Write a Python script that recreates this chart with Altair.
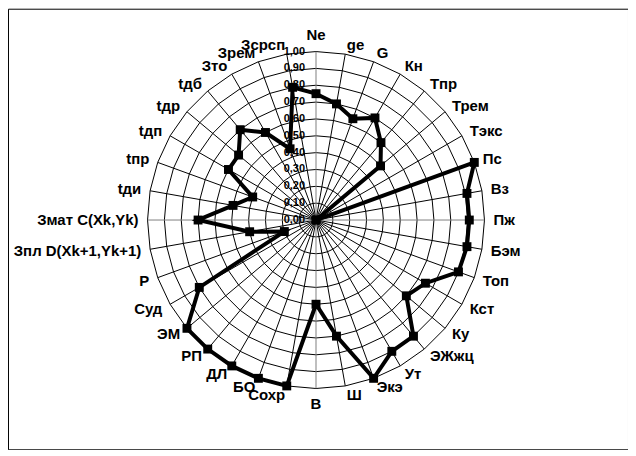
import altair as alt
import pandas as pd

categories = ["Ne", "ge", "G", "Кн", "Тпр", "Трем", "Тэкс", "Пс", "Вз", "Пж",
              "Бэм", "Топ", "Кст", "Ку", "ЭЖжц", "Ут", "Экэ", "Ш", "В", "Сохр",
              "БО", "ДЛ", "РП", "ЭМ", "Суд", "Р", "Зпл D(Xk+1,Yk+1)", "Змат C(Xk,Yk)",
              "tди", "tпр", "tдп", "tдр", "tдб", "Зто", "Зрем", "Зсрсп"]
values = [0.75, 0.70, 0.64, 0.70, 0.60, 0.50, 0.00, 1.00, 0.91, 0.91,
          0.91, 0.90, 0.75, 0.70, 0.90, 0.90, 1.00, 0.70, 0.50, 1.00,
          1.00, 1.00, 1.00, 1.00, 0.80, 0.20, 0.40, 0.70, 0.50, 0.40,
          0.60, 0.60, 0.70, 0.60, 0.45, 0.80]
tick_values = [0.0, 0.1, 0.2, 0.3, 0.4, 0.5, 0.6, 0.7, 0.8, 0.9, 1.0]
tick_labels = ["0,00", "0,10", "0,20", "0,30", "0,40", "0,50",
               "0,60", "0,70", "0,80", "0,90", "1,00"]

df = pd.DataFrame({"cat": categories, "val": values, "idx": list(range(len(categories)))})
ticks = pd.DataFrame({"v": tick_values, "t": tick_labels})

W, H = 622, 442
R = 169.0
CX, CY = 309.0, 212.0
xs = alt.Scale(domain=[-CX / R, (W - CX) / R], nice=False, zero=False)
ys = alt.Scale(domain=[-(H - CY) / R, CY / R], nice=False, zero=False)
LR = 1.0 + 9.0 / R
FONT = "Liberation Sans"

base = alt.Chart(df).transform_calculate(
    ang="datum.idx * 10 * PI / 180",
).transform_calculate(
    px="datum.val * sin(datum.ang)",
    py="datum.val * cos(datum.ang)",
    sx="sin(datum.ang)",
    sy="cos(datum.ang)",
    lx=f"{LR} * sin(datum.ang)",
    ly=f"{LR} * cos(datum.ang)",
    zero="0",
)

rings = alt.Chart(df).transform_calculate(
    ang="datum.idx * 10 * PI / 180",
    lv=str(tick_values[1:]),
).transform_flatten(["lv"]).transform_calculate(
    rx="datum.lv * sin(datum.ang)",
    ry="datum.lv * cos(datum.ang)",
).mark_line(interpolate="linear-closed", color="black", strokeWidth=1).encode(
    x=alt.X("rx:Q", scale=xs, axis=None),
    y=alt.Y("ry:Q", scale=ys, axis=None),
    detail="lv:N",
    order="idx:Q",
)

spokes = base.mark_rule(strokeWidth=1).encode(
    x=alt.X("zero:Q", scale=xs, axis=None),
    x2="sx:Q",
    y=alt.Y("zero:Q", scale=ys, axis=None),
    y2="sy:Q",
    color=alt.condition("datum.idx % 9 == 0", alt.value("#808080"), alt.value("black")),
)

line = base.mark_line(interpolate="linear-closed", color="black", strokeWidth=4).encode(
    x=alt.X("px:Q", scale=xs, axis=None),
    y=alt.Y("py:Q", scale=ys, axis=None),
    order="idx:Q",
)

pts = base.mark_point(shape="square", filled=True, size=80, color="black", opacity=1).encode(
    x=alt.X("px:Q", scale=xs, axis=None),
    y=alt.Y("py:Q", scale=ys, axis=None),
)

def lab(filt, align, baseline):
    return base.transform_filter(filt).mark_text(
        align=align, baseline=baseline, font=FONT, fontSize=15, fontWeight="bold", color="black"
    ).encode(
        x=alt.X("lx:Q", scale=xs, axis=None),
        y=alt.Y("ly:Q", scale=ys, axis=None),
        text="cat:N",
    )

labels = [
    lab("datum.idx > 0 && datum.idx < 18", "left", "middle"),
    lab("datum.idx > 18", "right", "middle"),
    lab("datum.idx == 0", "center", "bottom"),
    lab("datum.idx == 18", "center", "top"),
]

tick_text = alt.Chart(ticks).mark_text(
    align="right", baseline="middle", dx=-11, font=FONT, fontSize=11, fontWeight="bold", color="black"
).encode(
    x=alt.X("z:Q", scale=xs, axis=None),
    y=alt.Y("v:Q", scale=ys, axis=None),
    text="t:N",
).transform_calculate(z="0")

chart = alt.layer(rings, spokes, tick_text, line, pts, *labels).properties(
    width=W, height=H,
    autosize=alt.AutoSizeParams(type="none"),
    padding=0,
).configure_view(stroke="black", strokeWidth=1)

chart.save("out.html", embed_options={"renderer": "svg", "actions": False})
